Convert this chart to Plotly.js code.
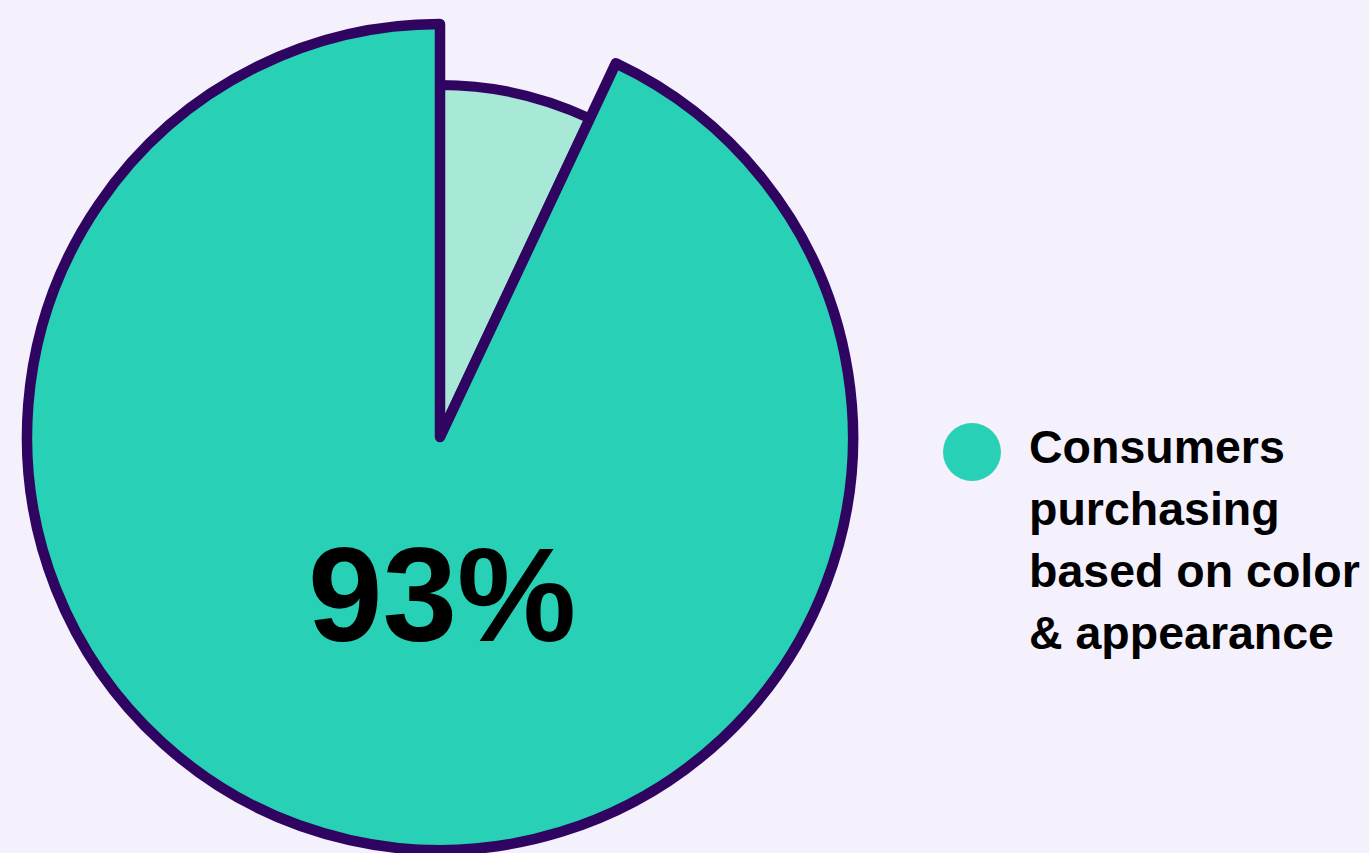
<!DOCTYPE html>
<html>
<head>
<meta charset="utf-8">
<script src="https://cdn.plot.ly/plotly-3.0.1.min.js"></script>
<style>
html,body{margin:0;padding:0;background:#F4F0FC;}
#chart{width:1369px;height:853px;}
</style>
</head>
<body>
<div id="chart"></div>
<script>
// Data
var categories = ["Not based on color & appearance", "Consumers purchasing based on color & appearance"];
var shares = [7, 93];
var highlightLabel = "93%";
var legendLines = ["Consumers", "purchasing", "based on color", "& appearance"];

var teal = "#28D0B5";
var lightTeal = "#A8E8D7";
var outline = "#300561";
var bg = "#F4F0FC";
var W = 1369, H = 853;

function dom(cx, cy, r) {
  var yb = H - cy;
  return {x: [(cx - r) / W, (cx + r) / W], y: [(yb - r) / H, (yb + r) / H]};
}

var smallPie = {
  type: "pie",
  labels: categories,
  values: shares,
  sort: false,
  direction: "clockwise",
  rotation: 0,
  textinfo: "none",
  hoverinfo: "none",
  showlegend: false,
  domain: dom(440, 437, 352),
  marker: {colors: [lightTeal, "rgba(0,0,0,0)"], line: {color: outline, width: [10, 0]}}
};
var bigPie = {
  type: "pie",
  labels: categories,
  values: shares,
  sort: false,
  direction: "clockwise",
  rotation: 0,
  textinfo: "none",
  hoverinfo: "none",
  showlegend: false,
  domain: dom(440, 437, 413),
  marker: {colors: ["rgba(0,0,0,0)", teal], line: {color: outline, width: [0, 10.5]}}
};

var font = "Liberation Sans, Arial, sans-serif";
var annotations = [{
  text: "<b>" + highlightLabel + "</b>",
  xref: "paper", yref: "paper",
  x: 441.5 / W, y: 1 - 594 / H,
  xanchor: "center", yanchor: "middle",
  showarrow: false,
  font: {family: font, size: 134, color: "#000000"}
}];
var lineCenters = [447, 509, 571, 633];
legendLines.forEach(function (t, i) {
  annotations.push({
    text: "<b>" + t + "</b>",
    xref: "paper", yref: "paper",
    x: 1027 / W, y: 1 - lineCenters[i] / H,
    xanchor: "left", yanchor: "middle",
    showarrow: false,
    font: {family: font, size: 46.5, color: "#000000"}
  });
});

var layout = {
  width: W, height: H,
  margin: {l: 0, r: 0, t: 0, b: 0},
  paper_bgcolor: bg,
  plot_bgcolor: bg,
  showlegend: false,
  annotations: annotations,
  shapes: [{
    type: "circle", xref: "paper", yref: "paper",
    x0: (972 - 29) / W, x1: (972 + 29) / W,
    y0: 1 - (452 + 29) / H, y1: 1 - (452 - 29) / H,
    fillcolor: teal, line: {width: 0}
  }]
};

Plotly.newPlot("chart", [smallPie, bigPie], layout, {displayModeBar: false, staticPlot: true});
</script>
</body>
</html>
